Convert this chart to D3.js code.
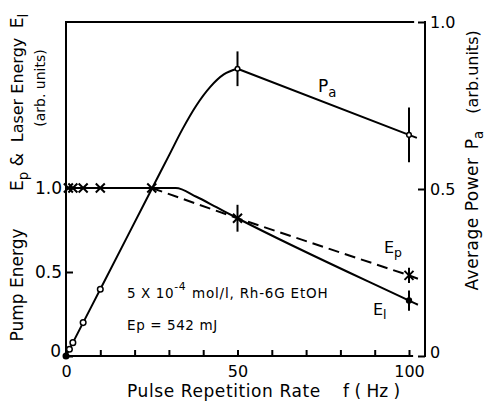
<!DOCTYPE html>
<html><head><meta charset="utf-8">
<script src="https://cdn.jsdelivr.net/npm/d3@7"></script>
<style>body{margin:0;background:#fff}svg{display:block;font-family:"DejaVu Sans",sans-serif}</style>
</head><body><svg id="c" width="485" height="403"></svg>
<script>
// ---------- data ----------
const xTicks = [0,10,20,30,40,50,60,70,80,90,100];
const xTickLabels = [0,50,100];
const leftTicks = [0,0.5,1.0];
const rightTicks = [0,0.5,1.0];

// Average power Pa (right axis)
const paF = [0,1,2,5,10,25,30,34,38,42,46,50];
const paV = [0,0.02,0.04,0.10,0.20,0.50,0.60,0.68,0.75,0.805,0.843,0.86];
const paCircleF = [1,2,5,10];
const paCircleV = [0.02,0.04,0.10,0.20];
const paTailF = [50,100,102.3];
const paTailV = [0.86,0.662,0.653];
const paErrF = [50,100];
const paErrV = [0.86,0.662];
const paErr = [0.052,0.082];

// Pump energy Ep (left axis)
const epCrossF = [0.7,2,5,10,25];
const epCrossV = [1,1,1,1,1];
const epDashF = [25,50,100,102.6];
const epDashV = [1.0,0.82,0.48,0.46];
const epErrF = [50,100];
const epErrV = [0.82,0.48];
const epErr = [0.08,0.045];

// Laser energy El (left axis)
const elF = [0,25,32,38,44,50,100,102.6];
const elV = [1,1,1,0.948,0.884,0.82,0.33,0.305];
const elErrF = [100];
const elErrV = [0.33];
const elErr = [0.06];

// ---------- chart ----------
const svg = d3.select("#c");
const x = d3.scaleLinear().domain([0,100]).range([66,409]);
const yL = d3.scaleLinear().domain([0,1]).range([356,188]);
const yR = d3.scaleLinear().domain([0,1]).range([356,22]);
const SW = 2;

// frame
const frame = svg.append("g").attr("stroke","#000").attr("stroke-width",SW).attr("fill","none");
frame.append("line").attr("x1",66).attr("x2",66).attr("y1",yR(0)+1).attr("y2",yR(1)-1);
frame.append("line").attr("x1",65).attr("x2",x(101.5)).attr("y1",yR(1)).attr("y2",yR(1));
frame.append("line").attr("x1",65).attr("x2",x(101.2)).attr("y1",yR(0)).attr("y2",yR(0));
frame.append("line").attr("x1",425).attr("x2",425).attr("y1",yR(1)-1).attr("y2",yR(0)+1);

// axes
const xa = svg.append("g").attr("transform","translate(0,356)")
  .call(d3.axisBottom(x).tickValues(xTicks).tickSize(-6).tickPadding(10)
    .tickFormat(d => xTickLabels.includes(d) ? d : ""));
xa.select(".domain").remove();
xa.selectAll(".tick line").attr("stroke-width",SW);
xa.selectAll("text").attr("font-size",16).attr("font-family","DejaVu Sans");

const la = svg.append("g").attr("transform","translate(66,0)")
  .call(d3.axisLeft(yL).tickValues(leftTicks).tickSize(-7).tickPadding(4)
    .tickFormat(d => d===0 ? "0" : d3.format(".1f")(d)));
la.select(".domain").remove();
la.selectAll(".tick line").attr("stroke-width",SW);
la.selectAll("text").attr("font-size",17).attr("font-family","DejaVu Sans");
la.selectAll(".tick").filter(d=>d===0).select("text").attr("dy","0.05em").attr("x",-5);

const ra = svg.append("g").attr("transform","translate(425,0)")
  .call(d3.axisRight(yR).tickValues(rightTicks).tickSize(-7).tickPadding(5)
    .tickFormat(d => d===0 ? "0" : d3.format(".1f")(d)));
ra.select(".domain").remove();
ra.selectAll(".tick line").attr("stroke-width",SW);
ra.selectAll("text").attr("font-size",16).attr("font-family","DejaVu Sans");
ra.selectAll(".tick").filter(d=>d===0).select("text").attr("dy","0.1em");

// lines
const g = svg.append("g").attr("fill","none").attr("stroke","#000").attr("stroke-width",SW)
  .attr("stroke-linejoin","round");
const lineR = d3.line().x(d=>x(d[0])).y(d=>yR(d[1]));
const lineL = d3.line().x(d=>x(d[0])).y(d=>yL(d[1]));

g.append("path").attr("d", lineR.curve(d3.curveMonotoneX)(d3.zip(paF,paV)));
g.append("path").attr("d", d3.line().x(d=>x(d[0])).y(d=>yR(d[1]))(d3.zip(paTailF,paTailV)));
g.append("path").attr("d", lineL.curve(d3.curveMonotoneX)(d3.zip(elF,elV)));
g.append("path").attr("stroke-dasharray","11,6")
  .attr("d", d3.line().x(d=>x(d[0])).y(d=>yL(d[1]))(d3.zip(epDashF,epDashV)));

// error bars
const eb = svg.append("g").attr("stroke","#000").attr("stroke-width",SW);
paErrF.forEach((f,i)=>eb.append("line").attr("x1",x(f)).attr("x2",x(f))
  .attr("y1",yR(paErrV[i]-paErr[i])).attr("y2",yR(paErrV[i]+paErr[i])));
epErrF.forEach((f,i)=>eb.append("line").attr("x1",x(f)).attr("x2",x(f))
  .attr("y1",yL(epErrV[i]-epErr[i])).attr("y2",yL(epErrV[i]+epErr[i])));
elErrF.forEach((f,i)=>eb.append("line").attr("x1",x(f)).attr("x2",x(f))
  .attr("y1",yL(elErrV[i]-elErr[i])).attr("y2",yL(elErrV[i]+elErr[i])));

// markers
const mk = svg.append("g").attr("stroke","#000").attr("stroke-width",SW);
const cross = (cx,cy,s) => {
  mk.append("path").attr("d",`M${cx-s},${cy-s}L${cx+s},${cy+s}M${cx-s},${cy+s}L${cx+s},${cy-s}`);
};
epCrossF.forEach((f,i)=>cross(x(f),yL(epCrossV[i]),4.5));
epErrF.forEach((f,i)=>cross(x(f),yL(epErrV[i]),4.5));
paCircleF.forEach((f,i)=>mk.append("circle").attr("cx",x(f)).attr("cy",yR(paCircleV[i]))
  .attr("r",2.8).attr("fill","#fff").attr("stroke-width",1.5));
paErrF.forEach((f,i)=>mk.append("circle").attr("cx",x(f)).attr("cy",yR(paErrV[i]))
  .attr("r",2.3).attr("fill","#fff").attr("stroke-width",1.5));
mk.append("circle").attr("cx",x(0)).attr("cy",yR(0)).attr("r",2.5).attr("fill","#000");
elErrF.forEach((f,i)=>mk.append("circle").attr("cx",x(f)).attr("cy",yL(elErrV[i]))
  .attr("r",2.2).attr("fill","#000"));

// ---------- text ----------
const T = svg.append("g").attr("fill","#000").attr("font-family","DejaVu Sans");
function label(xp,yp,parts,size,rot,anchor){
  const t = T.append("text").attr("font-size",size).attr("text-anchor",anchor||"start")
    .attr("transform",`translate(${xp},${yp})${rot?" rotate(-90)":""}`);
  parts.forEach(p=>{
    const s = t.append("tspan").text(p.t);
    if(p.sub){ s.attr("font-size",size*0.78).attr("dy",size*0.28); }
    if(p.back){ s.attr("dy",-size*0.28); }
    if(p.sup){ s.attr("font-size",size*0.8).attr("dy",-size*0.6); }
  });
  return t;
}
// curve labels
label(318,92,[{t:"P"},{t:"a",sub:true}],17);
label(384,253,[{t:"E"},{t:"p",sub:true}],16);
label(373,315,[{t:"E"},{t:"l",sub:true}],16);
// annotation
label(127,298,[{t:"5 X 10"},{t:"-4",sup:true}],13.5).attr("letter-spacing",0.6);
label(192,298,[{t:"mol/l, Rh-6G EtOH"}],13.5).attr("letter-spacing",0.8);
label(127,330,[{t:"Ep = 542 mJ"}],13.5).attr("letter-spacing",0.6);
// x title
label(127,397,[{t:"Pulse Repetition Rate"}],17).attr("letter-spacing",0.6);
label(343,397,[{t:"f ( Hz )"}],17);
// left title
label(23,285,[{t:"Pump Energy"}],17,true,"middle");
label(23,172,[{t:"E"},{t:"p",sub:true},{t:" &",back:true}],17,true,"middle");
label(23,90,[{t:"Laser Energy"}],16,true,"middle");
label(23,21,[{t:"E"},{t:"l",sub:true}],17,true,"middle");
label(45,88,[{t:"(arb. units)"}],14,true,"middle");
// right title
label(478,224,[{t:"Average Power"}],17,true,"middle").attr("letter-spacing",0.5);
label(478,140,[{t:"P"},{t:"a",sub:true}],17,true,"middle");
label(478,72,[{t:"(arb.units)"}],16,true,"middle");
</script></body></html>
